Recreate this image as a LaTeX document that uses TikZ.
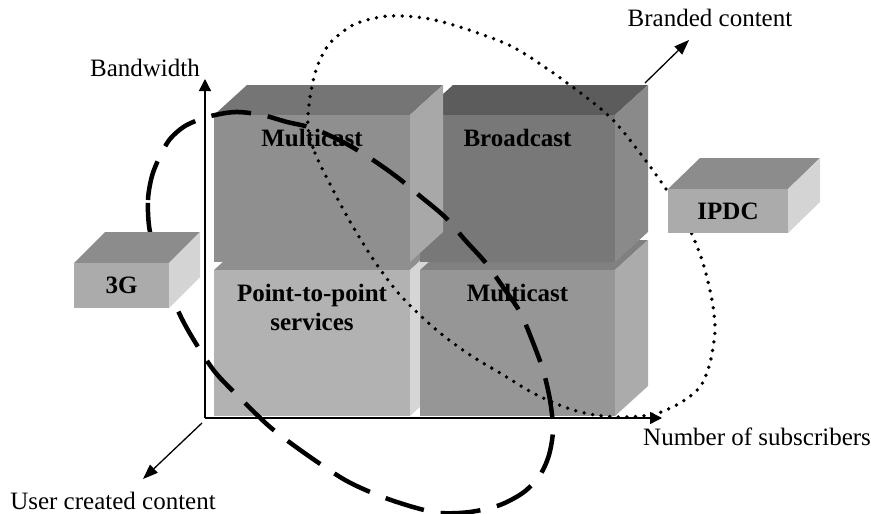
\documentclass[tikz,border=0pt]{standalone}
\usepackage{fontspec}
\setmainfont{Liberation Serif}
\usetikzlibrary{arrows.meta}

\begin{document}
\begin{tikzpicture}
  [x=1pt,y=-1pt,every node/.style={font=\fontsize{25}{29}\selectfont,inner sep=0pt}]
  \tikzstyle{axis} = [line width=1.4pt,-{Triangle[length=12pt,width=12pt]}]
  \tikzstyle{pointer} = [line width=1.3pt,-{Triangle[length=15pt,width=11pt]}]
  \tikzstyle{caption} = [font=\fontsize{25}{29}\selectfont\bfseries,align=center,anchor=north]
  \tikzstyle{pushed} = [line width=4.5pt,dash pattern=on 40pt off 17pt]
  \tikzstyle{pulled} = [line width=3.8pt,line cap=round,dash pattern=on 0pt off 8.6pt]
  \useasboundingbox (0,0) rectangle (871,514);

  % the four service blocks: name/left/top/width/height/front/top/side/text
  \foreach \name/\x/\y/\w/\h/\cf/\ct/\cs/\txt in
    {ptp/214/270/196/146/black!30/black!44/black!16/Point-to-point\\services,
     mcb/420/270/195/146/black!41/black!50/black!33/Multicast,
     bc/420/115/195/147/black!53/black!64/black!46/Broadcast,
     mct/214/115/196/147/black!44/black!54/black!34/Multicast}
  {
    \fill[\ct] (\x,\y) -- ++(33,-30) -- ++(\w,0) -- ++(-33,30) -- cycle;
    \fill[\cs] (\x+\w,\y) -- ++(33,-30) -- ++(0,\h) -- ++(-33,30) -- cycle;
    \fill[\cf] (\x,\y) rectangle ++(\w,\h);
    \node[caption] (\name) at (\x+\w/2,\y+14) {\txt};
  }

  % axes
  \coordinate (origin) at (205,418);
  \coordinate (bwtip) at (205,79);
  \coordinate (nstip) at (662,418);
  \draw[axis] (origin) -- (bwtip);
  \draw[axis] (origin) -- (nstip);
  \node[anchor=base east] (bw) at (200,76) {Bandwidth};
  \node[anchor=base west] (ns) at (643,445) {Number of subscribers};

  % user created / branded content directions
  \coordinate (ucfrom) at (202,423);
  \coordinate (ucto) at (143,479);
  \coordinate (brfrom) at (645,83);
  \coordinate (brto) at (689,40);
  \draw[pointer] (ucfrom) -- (ucto);
  \draw[pointer] (brfrom) -- (brto);
  \node[anchor=base] (uc) at (113,509) {User created content};
  \node[anchor=base] (br) at (710,26) {Branded content};

  % 3G reach
  \draw[pushed] plot[smooth cycle] coordinates {(150,232) (148,200) (152,176)
    (160,156) (170,139) (185,126) (207,117) (235,112) (262,115) (287,122)
    (312,128) (343,142) (370,158) (397,177) (420,196) (445,217) (465,240)
    (485,262) (503,287) (520,312) (532,340) (543,370) (550,400) (553,430)
    (549,455) (540,475) (524,492) (500,505) (470,512) (440,513) (413,507)
    (380,496) (345,480) (303,452) (270,427) (240,398) (215,372) (195,342)
    (180,315) (163,275)};
  % IPDC reach
  \draw[pulled] plot[smooth cycle] coordinates {(308,127) (315,153) (333,190)
    (352,225) (375,262) (400,295) (433,327) (467,353) (500,373) (533,393)
    (567,408) (595,415) (625,417) (655,414) (680,403) (700,387) (710,363)
    (715,330) (712,300) (703,263) (690,230) (670,195) (643,157) (610,117)
    (563,80) (513,47) (463,28) (430,19) (403,16) (380,17) (353,25) (330,43)
    (317,67) (310,97)};

  % technologies
  \foreach \name/\x/\y/\w/\h/\d/\txt in
    {tg/74/263/95/45/31/3G,
     ipdc/668/189/120/44/32/IPDC}
  {
    \fill[black!45] (\x,\y) -- ++(\d,-31) -- ++(\w,0) -- ++(-\d,31) -- cycle;
    \fill[black!17] (\x+\w,\y) -- ++(\d,-31) -- ++(0,\h) -- ++(-\d,31) -- cycle;
    \fill[black!33] (\x,\y) rectangle ++(\w,\h);
    \node[font=\fontsize{25}{29}\selectfont\bfseries] (\name) at (\x+\w/2,\y+\h/2) {\txt};
  }
\end{tikzpicture}
\end{document}
